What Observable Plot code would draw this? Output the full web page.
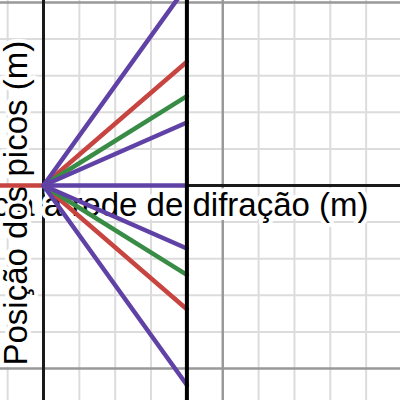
<!DOCTYPE html>
<html>
<head>
<meta charset="utf-8">
<script src="https://cdn.jsdelivr.net/npm/d3@7"></script>
<script src="https://cdn.jsdelivr.net/npm/@observablehq/plot@0.6"></script>
<style>
  html, body { margin: 0; padding: 0; background: #fff; overflow: hidden; }
  svg { display: block; overflow: hidden; }
</style>
</head>
<body>
<div id="chart"></div>
<script>
// ---- data ----
const minorX = [-1, 1, 2, 3, 4, 6, 7, 8, 9];
const majorX = [5];
const minorY = [-4, -3, -2, -1, 1, 2, 3, 4];
const majorY = [-5, 5];
const screenX = 4;                       // screen distance (m)
const incomingX = [-2, 0];               // incoming beam
const peakNames = ["vermelho", "verde", "violeta 1", "violeta 2"];
const peakPositions = [3.38, 2.44, 1.72, 5.45]; // peak position on screen (m)
const peakColors = ["#c74440", "#388c46", "#6042a6", "#6042a6"];
const xLabel = "Distância à rede de difração (m)";
const yLabel = "Posição dos picos (m)";

// build segments (+ and - orders)
const segs = [];
peakNames.forEach((n, i) => {
  segs.push({name: n, x2: screenX, y2: peakPositions[i], color: peakColors[i]});
  segs.push({name: n, x2: screenX, y2: -peakPositions[i], color: peakColors[i]});
});
const central = [{x1: 0, y1: 0, x2: screenX, y2: 0}];
const incoming = [{x1: incomingX[0], y1: 0, x2: incomingX[1], y2: 0}];

const font = "Liberation Sans, Arial, Helvetica, sans-serif";

const chart = Plot.plot({
  width: 400,
  height: 400,
  margin: 0,
  x: {domain: [-43 / 35.85, 357 / 35.85], axis: null},
  y: {domain: [-215 / 36.6, 185 / 36.6], axis: null},
  style: {fontFamily: font, background: "#fff"},
  marks: [
    Plot.ruleX(minorX, {stroke: "#dcdcdc", strokeWidth: 2}),
    Plot.ruleY(minorY, {stroke: "#dcdcdc", strokeWidth: 2}),
    Plot.ruleX(majorX, {stroke: "#999", strokeWidth: 2.5}),
    Plot.ruleY(majorY, {stroke: "#999", strokeWidth: 2.5}),
    Plot.ruleX([0], {stroke: "#1a1a1a", strokeWidth: 3}),
    Plot.ruleY([0], {stroke: "#1a1a1a", strokeWidth: 3}),
    Plot.text([xLabel], {
      x: 9.066, y: -0.558, text: d => d, textAnchor: "end",
      fontSize: 33, fill: "#000", stroke: "#fff", strokeWidth: 8, paintOrder: "stroke"
    }),
    Plot.text([yLabel], {
      x: -0.742, y: -4.918, text: d => d, textAnchor: "start", rotate: -90,
      fontSize: 33, fill: "#000", stroke: "#fff", strokeWidth: 8, paintOrder: "stroke"
    }),
    Plot.link(incoming, {x1: "x1", y1: "y1", x2: "x2", y2: "y2", stroke: "#c74440", strokeWidth: 4.5}),
    Plot.link(segs, {x1: () => 0, y1: () => 0, x2: "x2", y2: "y2", stroke: "color",
      strokeWidth: 4.5, strokeLinecap: "round", clip: true}),
    Plot.link(central, {x1: "x1", y1: "y1", x2: "x2", y2: "y2", stroke: "#6042a6", strokeWidth: 4.5}),
    Plot.ruleX([screenX], {stroke: "#000", strokeWidth: 4})
  ]
});
document.getElementById("chart").appendChild(chart);
</script>
</body>
</html>
